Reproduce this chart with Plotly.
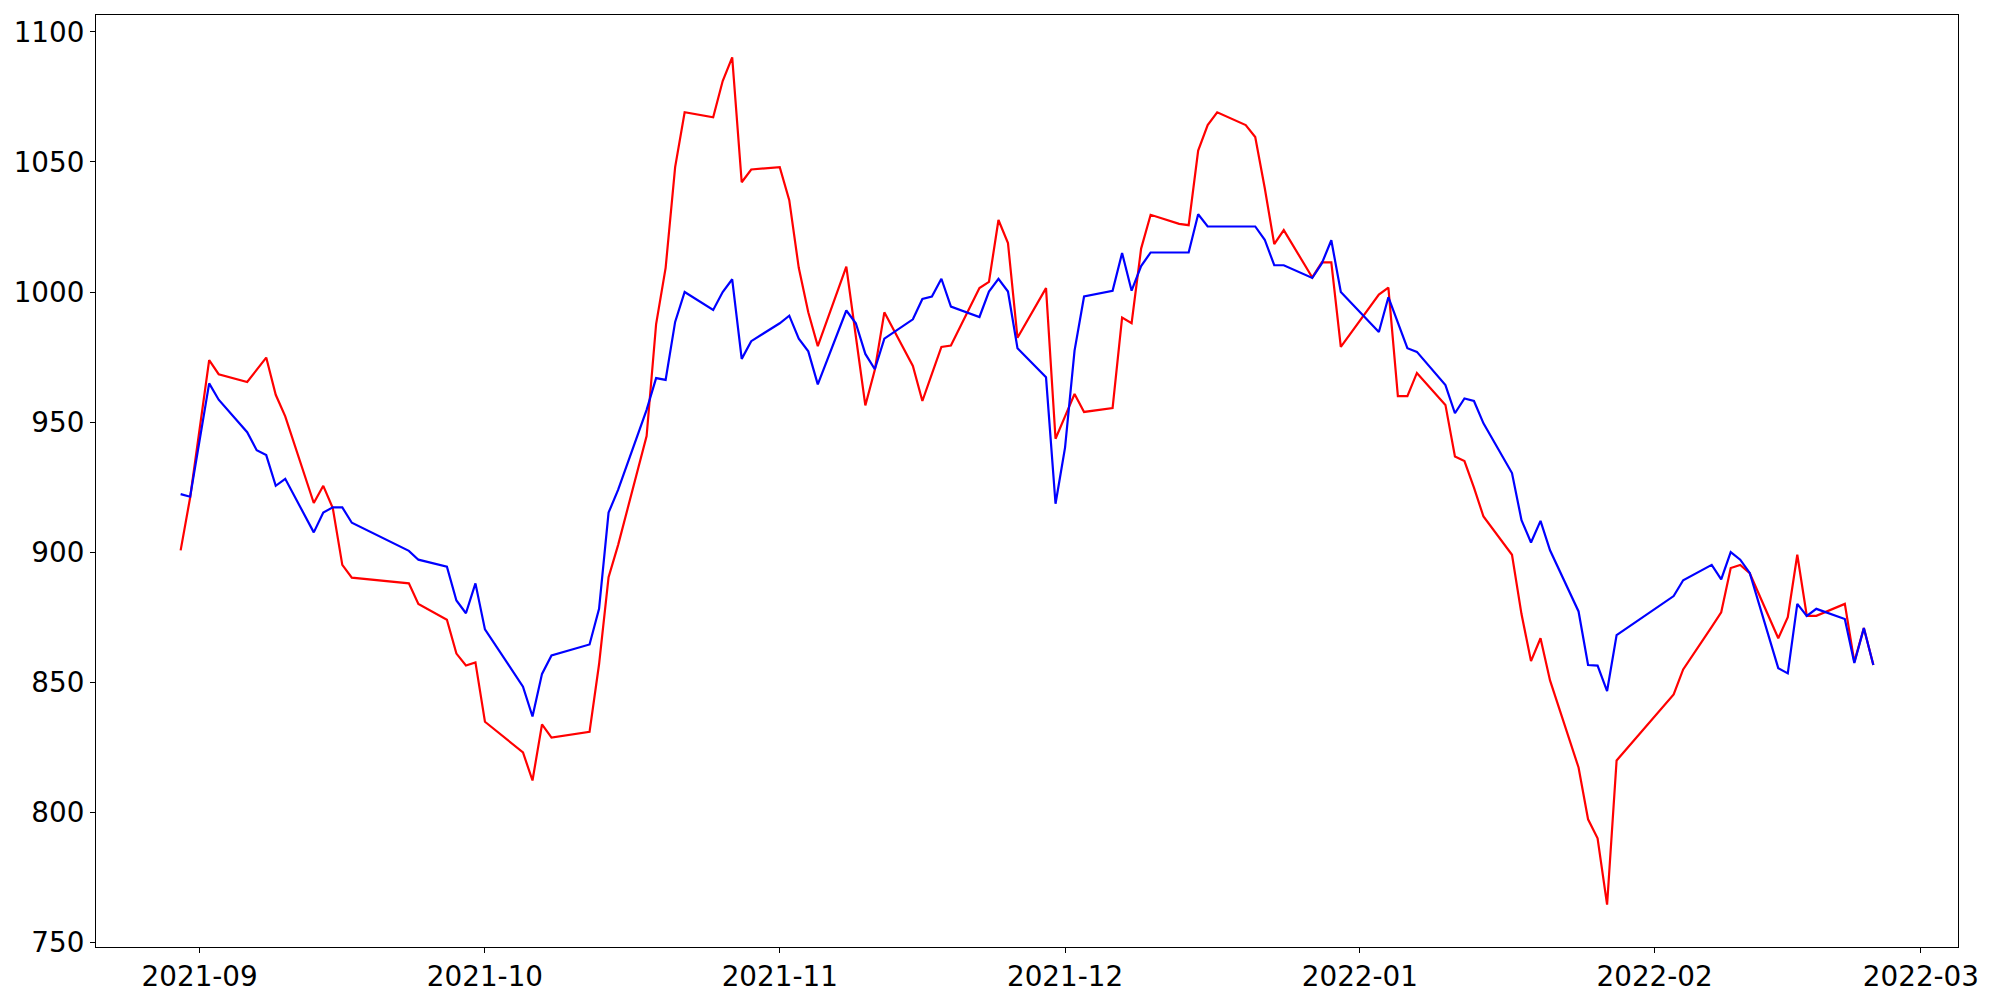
import plotly.graph_objects as go

dates = [
    "2021-08-30", "2021-08-31", "2021-09-02", "2021-09-03", "2021-09-06", "2021-09-07",
    "2021-09-08", "2021-09-09", "2021-09-10", "2021-09-13", "2021-09-14", "2021-09-15",
    "2021-09-16", "2021-09-17", "2021-09-23", "2021-09-24", "2021-09-27", "2021-09-28",
    "2021-09-29", "2021-09-30", "2021-10-01", "2021-10-05", "2021-10-06", "2021-10-07",
    "2021-10-08", "2021-10-12", "2021-10-13", "2021-10-14", "2021-10-15", "2021-10-18",
    "2021-10-19", "2021-10-20", "2021-10-21", "2021-10-22", "2021-10-25", "2021-10-26",
    "2021-10-27", "2021-10-28", "2021-10-29", "2021-11-01", "2021-11-02", "2021-11-03",
    "2021-11-04", "2021-11-05", "2021-11-08", "2021-11-09", "2021-11-10", "2021-11-11",
    "2021-11-12", "2021-11-15", "2021-11-16", "2021-11-17", "2021-11-18", "2021-11-19",
    "2021-11-22", "2021-11-23", "2021-11-24", "2021-11-25", "2021-11-26", "2021-11-29",
    "2021-11-30", "2021-12-01", "2021-12-02", "2021-12-03", "2021-12-06", "2021-12-07",
    "2021-12-08", "2021-12-09", "2021-12-10", "2021-12-13", "2021-12-14", "2021-12-15",
    "2021-12-16", "2021-12-17", "2021-12-20", "2021-12-21", "2021-12-22", "2021-12-23",
    "2021-12-24", "2021-12-27", "2021-12-28", "2021-12-29", "2021-12-30", "2022-01-03",
    "2022-01-04", "2022-01-05", "2022-01-06", "2022-01-07", "2022-01-10", "2022-01-11",
    "2022-01-12", "2022-01-13", "2022-01-14", "2022-01-17", "2022-01-18", "2022-01-19",
    "2022-01-20", "2022-01-21", "2022-01-24", "2022-01-25", "2022-01-26", "2022-01-27",
    "2022-01-28", "2022-02-03", "2022-02-04", "2022-02-07", "2022-02-08", "2022-02-09",
    "2022-02-10", "2022-02-11", "2022-02-14", "2022-02-15", "2022-02-16", "2022-02-17",
    "2022-02-18", "2022-02-21", "2022-02-22", "2022-02-23", "2022-02-24",
]

red_values = [
    900.7, 921.0, 973.8, 968.4, 965.4, 970.0,
    974.8, 960.5, 952.2, 918.9, 925.5, 916.9,
    895.1, 890.2, 888.0, 880.1, 874.0, 861.0,
    856.4, 857.6, 834.8, 823.0, 812.2, 833.8,
    828.7, 830.9, 856.9, 890.4, 902.7, 944.6,
    987.7, 1009.3, 1048.0, 1069.1, 1067.2, 1081.1,
    1090.2, 1042.2, 1047.1, 1048.0, 1035.3, 1009.3,
    992.2, 979.2, 1009.8, 983.0, 956.4, 970.1,
    992.2, 971.6, 958.1, 968.5, 978.9, 979.4,
    1001.5, 1003.9, 1027.7, 1018.8, 982.4, 1001.5,
    943.6, 952.2, 960.8, 953.9, 955.4, 990.2,
    988.0, 1016.7, 1029.7, 1026.2, 1025.7, 1054.4,
    1064.2, 1069.1, 1064.2, 1059.6, 1040.0, 1018.4,
    1023.8, 1005.6, 1011.4, 1011.4, 978.9, 999.0,
    1001.7, 960.0, 960.0, 968.9, 956.6, 936.8,
    935.0, 924.8, 913.7, 899.0, 876.2, 858.1,
    866.9, 850.7, 817.2, 797.3, 790.0, 764.5,
    819.9, 845.3, 854.9, 871.3, 876.9, 893.9,
    895.1, 891.9, 866.9, 875.0, 899.0, 875.5,
    875.5, 880.1, 857.8, 870.8, 856.6,
]

blue_values = [
    922.3, 921.3, 964.9, 958.6, 946.1, 939.2,
    937.3, 925.5, 928.2, 907.6, 915.2, 917.2,
    917.2, 911.3, 900.5, 897.1, 894.4, 881.4,
    876.5, 888.0, 870.3, 848.3, 836.8, 853.2,
    860.3, 864.5, 878.2, 915.2, 923.9, 954.7,
    966.9, 966.2, 988.5, 1000.0, 993.1, 1000.0,
    1004.9, 974.3, 981.1, 988.0, 990.9, 982.1,
    977.2, 964.5, 992.9, 988.0, 976.2, 970.3,
    982.1, 989.5, 997.3, 998.3, 1005.1, 994.4,
    990.4, 1000.2, 1005.1, 1000.2, 978.4, 967.2,
    918.6, 940.2, 977.5, 998.3, 1000.5, 1015.0,
    1000.5, 1010.0, 1015.2, 1015.2, 1015.2, 1029.9,
    1025.2, 1025.2, 1025.2, 1025.2, 1020.1, 1010.3,
    1010.3, 1005.4, 1011.0, 1019.9, 1000.0, 984.6,
    998.0, 988.0, 978.4, 977.0, 964.2, 953.4,
    959.1, 958.1, 949.5, 930.4, 912.3, 903.7,
    912.0, 900.7, 877.2, 856.6, 856.4, 846.6,
    868.1, 883.1, 889.2, 895.1, 889.5, 900.0,
    897.1, 892.0, 855.4, 853.4, 880.1, 875.5,
    878.2, 874.3, 857.4, 870.8, 856.6,
]

y_ticks = [750, 800, 850, 900, 950, 1000, 1050, 1100]

fig = go.Figure()
fig.add_trace(go.Scatter(x=dates, y=red_values, mode="lines",
                         line=dict(color="#ff0000", width=2.2), showlegend=False))
fig.add_trace(go.Scatter(x=dates, y=blue_values, mode="lines",
                         line=dict(color="#0000ff", width=2.2), showlegend=False))

axis_common = dict(
    showgrid=False, zeroline=False, showline=True, linecolor="black", linewidth=1.1,
    mirror=True, ticks="outside", ticklen=5, tickwidth=1.1, tickcolor="black",
    automargin=False,
    tickfont=dict(family="DejaVu Sans", size=27.8, color="black"),
)

# the page body adds an 8px offset; margins compensate so the plot area
# lands at x 96..1958, y 15..947 of the screenshot
fig.update_layout(
    width=2000, height=1000,
    paper_bgcolor="white", plot_bgcolor="white",
    margin=dict(l=88, r=50, t=7, b=61, autoexpand=False),
    xaxis=dict(type="date", range=["2021-08-21 02:24", "2022-03-04 21:36"],
               tick0="2021-09-01", dtick="M1", tickformat="%Y-%m", **axis_common),
    yaxis=dict(range=[748.2, 1106.5], tickvals=y_ticks,
               ticktext=[str(v) for v in y_ticks], **axis_common),
)

fig.write_html("out.html")
